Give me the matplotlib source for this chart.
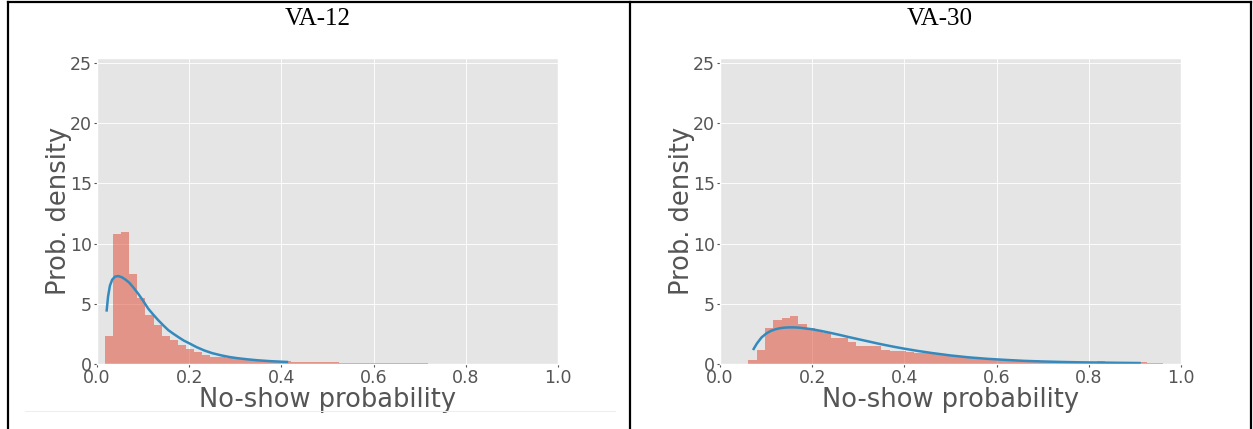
import numpy as np
import matplotlib
matplotlib.use("Agg")
import matplotlib.pyplot as plt
from matplotlib.lines import Line2D

plt.style.use("ggplot")

# ---------------- data ----------------
titles = ["VA-12", "VA-30"]
x_label = "No-show probability"
y_label = "Prob. density"
x_ticks = [0.0, 0.2, 0.4, 0.6, 0.8, 1.0]
y_ticks = [0, 5, 10, 15, 20, 25]

va12_bin_start = 0.0177
va12_bin_width = 0.0175
va12_heights = [2.3, 10.75, 10.95, 7.45, 5.45, 4.04, 3.2, 2.36, 2.0, 1.55,
                1.25, 1.0, 0.72, 0.62, 0.54, 0.47, 0.42, 0.37, 0.33, 0.29,
                0.26, 0.23, 0.21, 0.19, 0.17, 0.16, 0.15, 0.14, 0.13, 0.12,
                0.11, 0.10, 0.09, 0.08, 0.08, 0.07, 0.06, 0.06, 0.05, 0.05,
                0.04, 0.04, 0.03, 0.03, 0.02, 0.02, 0.02, 0.01, 0.01, 0.01]
va12_fit_x = [0.021, 0.024, 0.028, 0.033, 0.039, 0.046, 0.054, 0.062, 0.070,
              0.080, 0.090, 0.100, 0.111, 0.122, 0.133, 0.144, 0.155, 0.166,
              0.177, 0.188, 0.200, 0.216, 0.233, 0.250, 0.269, 0.287, 0.305,
              0.326, 0.348, 0.374, 0.400, 0.412]
va12_fit_y = [4.45, 5.6, 6.5, 7.0, 7.25, 7.3, 7.2, 7.0, 6.75,
              6.3, 5.8, 5.25, 4.6, 4.1, 3.63, 3.2, 2.8, 2.5,
              2.22, 1.95, 1.72, 1.4, 1.12, 0.9, 0.72, 0.58, 0.48,
              0.39, 0.31, 0.24, 0.19, 0.17]

va30_bin_start = 0.0618
va30_bin_width = 0.018
va30_heights = [0.33, 1.15, 2.97, 3.63, 3.84, 4.01, 3.3, 2.97, 2.85, 2.6,
                2.14, 2.14, 1.86, 1.51, 1.51, 1.5, 1.2, 1.12, 1.1, 1.02,
                0.95, 0.9, 0.85, 0.72, 0.68, 0.55, 0.5, 0.45, 0.4, 0.38,
                0.33, 0.3, 0.25, 0.22, 0.3, 0.25, 0.18, 0.15, 0.13, 0.2,
                0.14, 0.12, 0.22, 0.15, 0.17, 0.1, 0.12, 0.2, 0.1, 0.05]
va30_fit_x = [0.073, 0.08, 0.09, 0.10, 0.11, 0.12, 0.13, 0.14, 0.15, 0.16,
              0.17, 0.18, 0.20, 0.22, 0.24, 0.26, 0.28, 0.30, 0.32, 0.34,
              0.36, 0.38, 0.40, 0.43, 0.46, 0.50, 0.54, 0.58, 0.62, 0.66,
              0.70, 0.74, 0.78, 0.82, 0.86, 0.91]
va30_fit_y = [1.25, 1.7, 2.2, 2.52, 2.74, 2.88, 2.97, 3.02, 3.04, 3.04,
              3.02, 2.98, 2.88, 2.74, 2.58, 2.41, 2.23, 2.06, 1.89, 1.72,
              1.56, 1.41, 1.27, 1.08, 0.91, 0.71, 0.55, 0.43, 0.34, 0.26,
              0.21, 0.17, 0.14, 0.12, 0.10, 0.08]

panels = [
    (titles[0], va12_bin_start, va12_bin_width, va12_heights, va12_fit_x, va12_fit_y),
    (titles[1], va30_bin_start, va30_bin_width, va30_heights, va30_fit_x, va30_fit_y),
]

# ---------------- figure ----------------
W, H = 1253, 429
fig = plt.figure(figsize=(W / 100, H / 100), dpi=100)
fig.patch.set_facecolor("white")

ax_left_px = [97, 720]
ax_width_px = 461
ax_bottom_px = 364
ax_top_px = 58
title_centers = [318, 940]

for i, (title, start, width, heights, fx, fy) in enumerate(panels):
    ax = fig.add_axes([ax_left_px[i] / W, 1 - ax_bottom_px / H,
                       ax_width_px / W, (ax_bottom_px - ax_top_px) / H])
    n = len(heights)
    lefts = start + width * np.arange(n)
    ax.bar(lefts, heights, width=width, align="edge", color="#E24A33",
           alpha=0.52, linewidth=0)
    ax.plot(fx, fy, color="#348ABD", linewidth=1.8)
    ax.set_xlim(0, 1)
    ax.set_ylim(0, 25.4)
    ax.set_xticks(x_ticks)
    ax.set_xticklabels(["0.0", "0.2", "0.4", "0.6", "0.8", "1.0"])
    ax.set_yticks(y_ticks)
    ax.tick_params(axis="both", labelsize=12.5, colors="#555555",
                   length=2, pad=1.5)
    ax.set_xlabel(x_label, fontsize=18.5, color="#555555", labelpad=0)
    ax.set_ylabel(y_label, fontsize=18.5, color="#555555", labelpad=-1)
    ax.grid(True, color="white", linewidth=0.7, alpha=0.9)
    ax.set_axisbelow(True)
    fig.text(title_centers[i] / W, 1 - 19 / H, title, ha="center", va="center",
             fontsize=18, family="Liberation Serif", color="black")

# table borders
def px_line(x0, y0, x1, y1, lw=1.6, color="black"):
    fig.add_artist(Line2D([x0 / W, x1 / W], [1 - y0 / H, 1 - y1 / H],
                          transform=fig.transFigure, color=color, linewidth=lw))

px_line(8, 2, 1251, 2)
px_line(8, 2, 8, 429)
px_line(630, 2, 630, 429)
px_line(1251, 2, 1251, 429)
px_line(25, 411, 615, 411, lw=0.8, color="#eeeeee")

fig.savefig("out.png", dpi=100, facecolor="white")
